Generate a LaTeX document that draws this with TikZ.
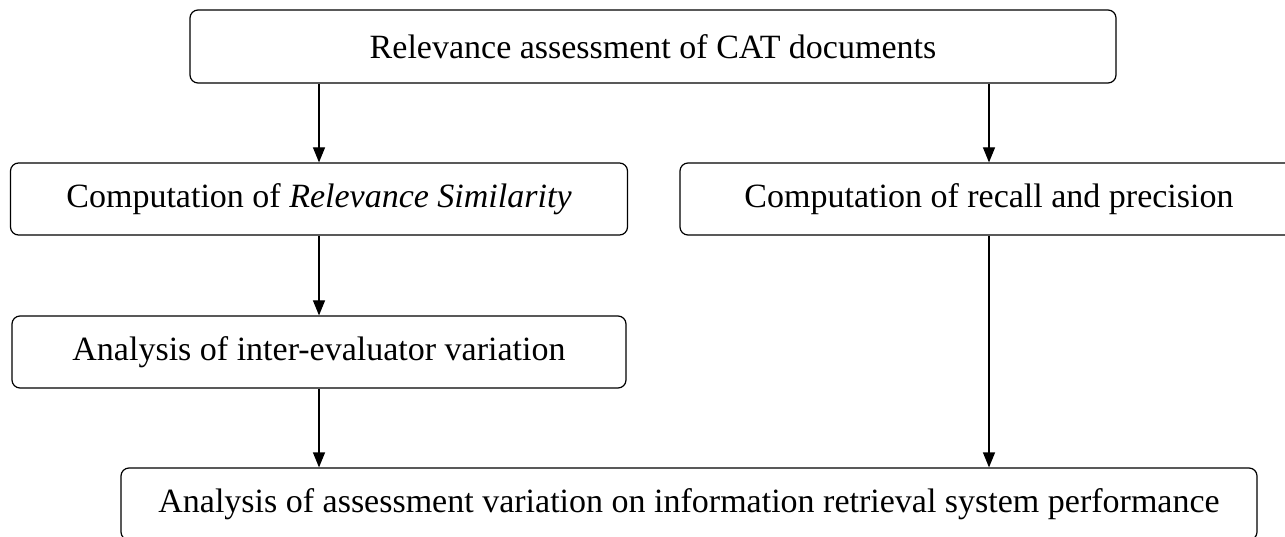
\documentclass[tikz,border=0pt]{standalone}
\usepackage{fontspec}
\setmainfont{Liberation Serif}
\usetikzlibrary{arrows.meta}

\tikzset{
  stage/.style={draw, line width=1.2pt, rounded corners=8pt, inner sep=0pt,
    font=\fontsize{34}{40}\selectfont},
  flow/.style={line width=1.2pt, -{Triangle[length=15pt,width=12pt]}}
}

\begin{document}
\begin{tikzpicture}[x=1pt, y=-1pt]
    \useasboundingbox (0,0) rectangle (1285,537);
    % stages
    \node[stage, minimum width=926pt, minimum height=73pt] (assess) at (653,46.5) {Relevance assessment of CAT documents};
    \node[stage, minimum width=617pt, minimum height=72pt] (simil) at (319,199) {Computation of \textit{Relevance Similarity}};
    \node[stage, minimum width=618pt, minimum height=72pt] (recall) at (989,199) {Computation of recall and precision};
    \node[stage, minimum width=614pt, minimum height=72pt] (inter) at (319,352) {Analysis of inter-evaluator variation};
    \node[stage, minimum width=1136pt, minimum height=72pt] (perf) at (689,504) {Analysis of assessment variation on information retrieval system performance};
    % flows
    \draw[flow] (assess.south -| simil.north) -- (simil.north);
    \draw[flow] (assess.south -| recall.north) -- (recall.north);
    \draw[flow] (simil.south) -- (inter.north);
    \draw[flow] (inter.south) -- (inter.south |- perf.north);
    \draw[flow] (recall.south) -- (recall.south |- perf.north);
\end{tikzpicture}
\end{document}
